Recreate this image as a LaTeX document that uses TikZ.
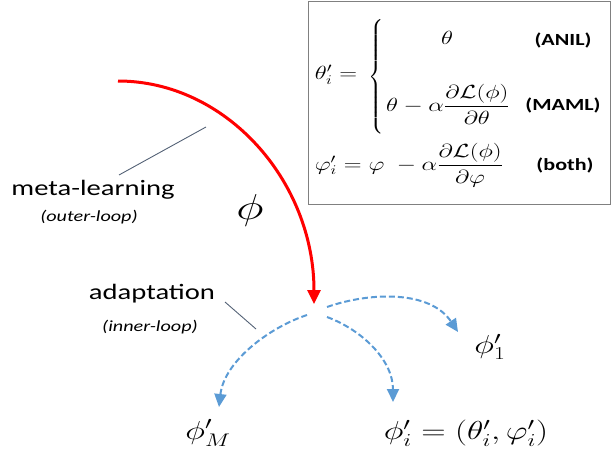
\RequirePackage{fix-cm}
\documentclass[tikz,border=0pt]{standalone}
\usepackage{amsmath}
\usepackage{fontspec}
\newfontfamily\calib[FakeStretch=1.3]{Carlito}
\newcommand\wide[1]{\scalebox{1.3}[1]{#1}}
\usetikzlibrary{positioning,calc,arrows.meta}
\definecolor{officeblue}{RGB}{91,155,213}
\definecolor{leadgray}{RGB}{84,98,118}
\definecolor{framegray}{RGB}{128,128,128}

\begin{document}
\begin{tikzpicture}[x=1pt,y=-1pt,
  word/.style={font=\calib\fontsize{22}{24}\selectfont},
  note/.style={font=\calib\itshape\fontsize{15.5}{17}\selectfont},
  tag/.style={font=\calib\bfseries\fontsize{17}{19}\selectfont},
  eq/.style={font=\fontsize{19}{22}\selectfont},
  param/.style={font=\fontsize{26}{30}\selectfont},
  leader/.style={leadgray,line width=0.9pt},
  outerloop/.style={red,line width=3pt,-{Triangle[width=13pt,length=14pt]}},
  innerloop/.style={officeblue,line width=2pt,dash pattern=on 6pt off 3pt,-{Triangle[width=12pt,length=13pt]}}]
\useasboundingbox (0,0) rectangle (613,452);

\node[draw=framegray,line width=1pt,minimum width=302pt,minimum height=202pt] (eqbox) at (459,103) {};
\node[eq] (thetalhs) at (336,75) {\wide{$\theta'_i=$}};
\node[eq,inner sep=0pt] (brace) at (377,77) {$\left\{\vrule height 54pt depth 53pt width 0pt\right.$};
\node[eq] (anilrhs) at (447,38) {\wide{$\theta$}};
\node[eq] (mamlrhs) at (448,104) {\wide{$\theta-\alpha\dfrac{\partial\mathcal{L}(\phi)}{\partial\theta}$}};
\node[eq] (bothrhs) at (409,165) {\wide{$\varphi'_i=\varphi\;-\alpha\dfrac{\partial\mathcal{L}(\phi)}{\partial\varphi}$}};
\node[tag] (anil) at (563,40) {(ANIL)};
\node[tag] (maml) at (563,105) {(MAML)};
\node[tag] (both) at (565,165) {(both)};

\coordinate (metastart) at (118,81);
\coordinate (hub) at (314,304);
\draw[outerloop] (metastart) .. controls (226,81) and (314,181) .. (hub);
\node[param,font=\fontsize{36}{40}\selectfont] (phi) at (250,210) {\wide{$\phi$}};

\node[word] (meta) at (93,190) {meta-learning};
\node[note] (outer) at (89,217) {(outer-loop)};
\coordinate (metatip) at (206,127);
\coordinate (metaend) at (119,175);
\draw[leader] (metatip) -- (metaend);

\node[word] (adapt) at (152,294) {adaptation};
\node[note] (inner) at (150,327) {(inner-loop)};
\coordinate (adapttip) at (225,302);
\coordinate (adaptend) at (256,329);
\draw[leader] (adapttip) -- (adaptend);

\coordinate (splitone) at (327,307);
\coordinate (spliti) at (327,317);
\coordinate (splitM) at (307,315);
\coordinate (tipone) at (458,332);
\coordinate (tipi) at (393,402);
\coordinate (tipM) at (219,407);
\draw[innerloop] (splitone) .. controls (370,292) and (430,290) .. (tipone);
\draw[innerloop] (spliti) .. controls (362,330) and (393,360) .. (tipi);
\draw[innerloop] (splitM) .. controls (268,328) and (224,362) .. (tipM);

\node[param] (phione) at (490,347) {\wide{$\phi'_1$}};
\node[param] (phiM) at (208,433) {\wide{$\phi'_M$}};
\node[param] (phii) at (466,433) {\wide{$\phi'_i=(\theta'_i,\varphi'_i)$}};
\end{tikzpicture}
\end{document}
